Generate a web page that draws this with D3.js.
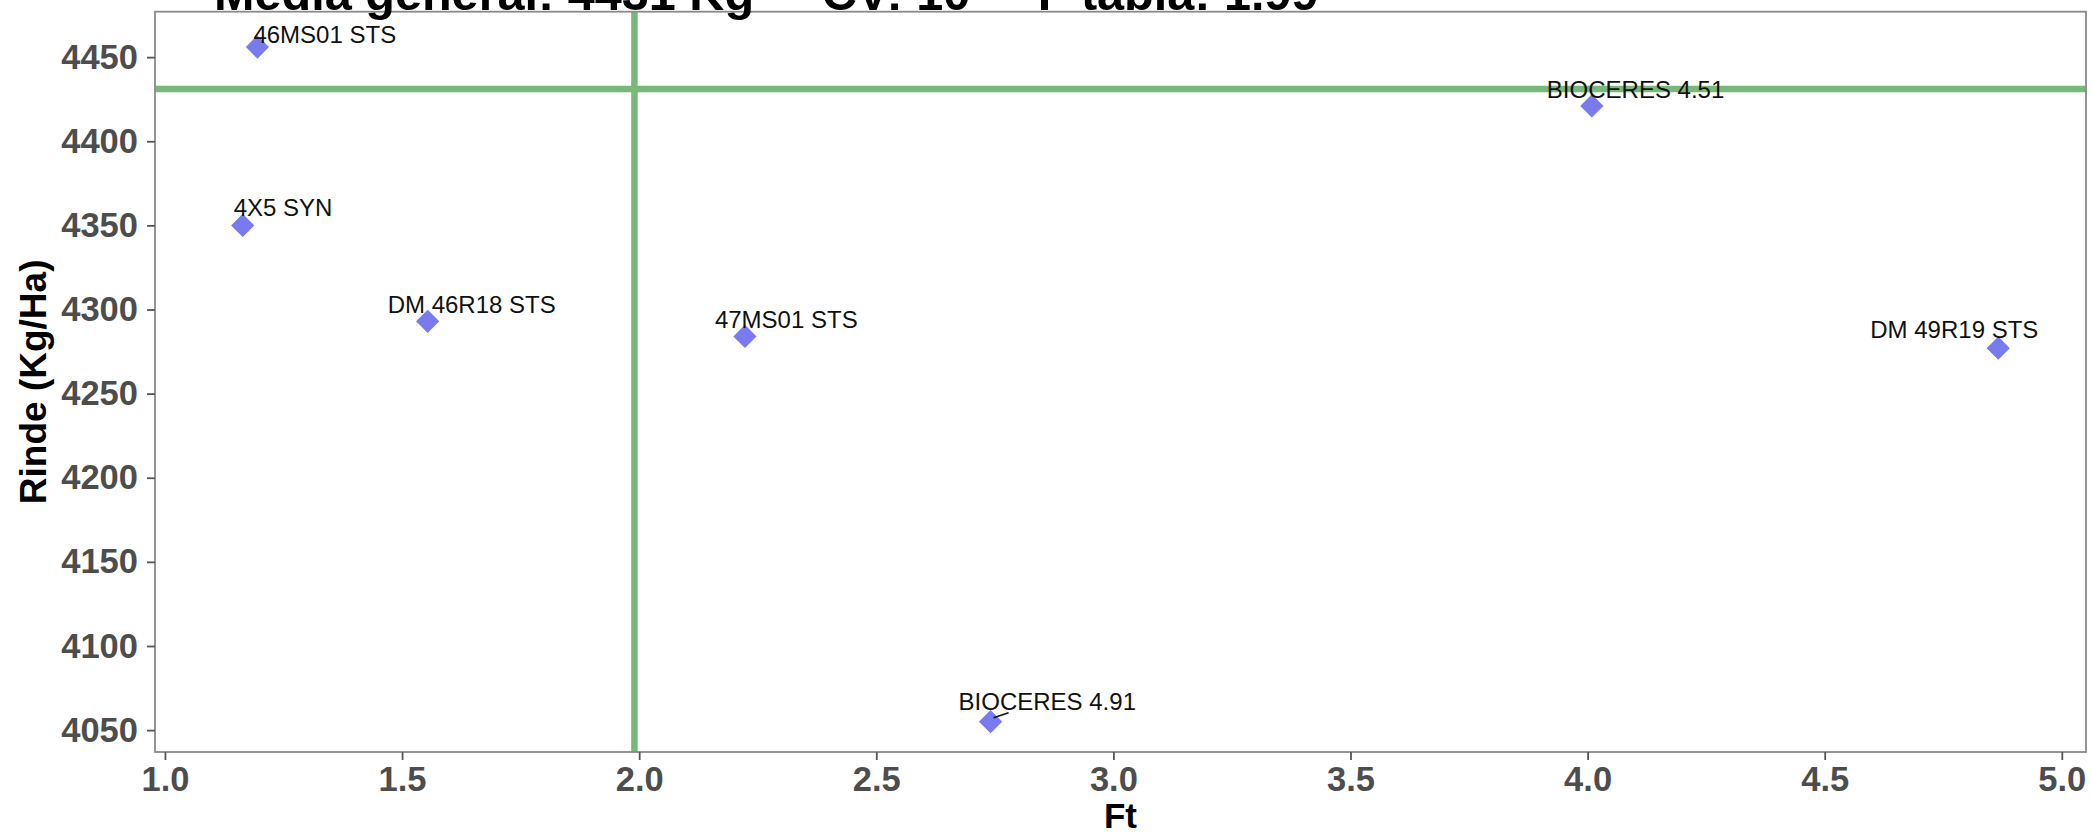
<!DOCTYPE html>
<html>
<head>
<meta charset="utf-8">
<script src="https://cdn.jsdelivr.net/npm/d3@7"></script>
<style>
  html, body { margin: 0; padding: 0; background: #ffffff; }
  svg { display: block; }
  text { font-family: "Liberation Sans", Arial, sans-serif; }
</style>
</head>
<body>
<div id="chart"></div>
<script>
// ---- Data ----
const genotypes = ["46MS01 STS", "4X5 SYN", "DM 46R18 STS", "47MS01 STS", "BIOCERES 4.91", "BIOCERES 4.51", "DM 49R19 STS"];
const ftValues = [1.195, 1.164, 1.554, 2.223, 2.741, 4.009, 4.866];
const rindeValues = [4456, 4350, 4293, 4284, 4055, 4421, 4277];
const mediaGeneral = 4431;
const fTabla = 1.99;
const titleText = "Media general: 4431 Kg     CV: 10     F tabla: 1.99";
const xTicks = [1.0, 1.5, 2.0, 2.5, 3.0, 3.5, 4.0, 4.5, 5.0];
const yTicks = [4050, 4100, 4150, 4200, 4250, 4300, 4350, 4400, 4450];
const xLimits = [0.979, 5.051];
const yLimits = [4037, 4477];
const xTitle = "Ft";
const yTitle = "Rinde (Kg/Ha)";

// label placement (pixel offsets of text start / baseline from the point, as placed by repel)
const labelOffsets = [
  {dx: -4, dy: -4},
  {dx: -9, dy: -9},
  {dx: -40, dy: -8},
  {dx: -30, dy: -8},
  {dx: -32, dy: -12, seg: [18, -9]},
  {dx: -45, dy: -8},
  {dx: -128, dy: -10}
];

// ---- Layout ----
const W = 2092, H = 837;
const panel = {left: 155, right: 2086, top: 11.7, bottom: 752};

const svg = d3.select("#chart").append("svg")
  .attr("width", W).attr("height", H)
  .style("background", "#ffffff");

const x = d3.scaleLinear().domain(xLimits).range([panel.left, panel.right]);
const y = d3.scaleLinear().domain(yLimits).range([panel.bottom, panel.top]);

const data = genotypes.map((g, i) => ({name: g, ft: ftValues[i], rinde: rindeValues[i], off: labelOffsets[i]}));

// clip
svg.append("clipPath").attr("id", "clip")
  .append("rect")
  .attr("x", panel.left).attr("y", panel.top)
  .attr("width", panel.right - panel.left).attr("height", panel.bottom - panel.top);

// reference lines
const refG = svg.append("g").attr("clip-path", "url(#clip)");
refG.append("line")
  .attr("x1", panel.left).attr("x2", panel.right)
  .attr("y1", y(mediaGeneral)).attr("y2", y(mediaGeneral))
  .attr("stroke", "#78b878").attr("stroke-width", 6.5);
refG.append("line")
  .attr("x1", x(fTabla)).attr("x2", x(fTabla))
  .attr("y1", panel.top).attr("y2", panel.bottom)
  .attr("stroke", "#78b878").attr("stroke-width", 6.5);

// points (filled diamonds)
const diamond = d3.symbol().type(d3.symbolSquare).size(270);
svg.append("g").selectAll("path.pt")
  .data(data).join("path")
  .attr("class", "pt")
  .attr("d", diamond)
  .attr("transform", d => `translate(${x(d.ft)},${y(d.rinde)}) rotate(45)`)
  .attr("fill", "#7a7aef");

// repel segments
svg.append("g").selectAll("line.seg")
  .data(data.filter(d => d.off.seg)).join("line")
  .attr("class", "seg")
  .attr("x1", d => x(d.ft) + 3).attr("y1", d => y(d.rinde) - 4)
  .attr("x2", d => x(d.ft) + d.off.seg[0]).attr("y2", d => y(d.rinde) + d.off.seg[1])
  .attr("stroke", "#111").attr("stroke-width", 1.6);

// labels
svg.append("g").selectAll("text.lbl")
  .data(data).join("text")
  .attr("class", "lbl")
  .attr("x", d => x(d.ft) + d.off.dx)
  .attr("y", d => y(d.rinde) + d.off.dy)
  .attr("font-size", 24)
  .attr("fill", "#111")
  .text(d => d.name);

// panel border
svg.append("rect")
  .attr("x", panel.left).attr("y", panel.top)
  .attr("width", panel.right - panel.left).attr("height", panel.bottom - panel.top)
  .attr("fill", "none").attr("stroke", "#8a8a8a").attr("stroke-width", 1.8);

// axes
const xAxis = d3.axisBottom(x).tickValues(xTicks).tickFormat(d3.format(".1f")).tickSize(8).tickPadding(7);
const yAxis = d3.axisLeft(y).tickValues(yTicks).tickFormat(d3.format("d")).tickSize(8).tickPadding(9);

const gx = svg.append("g").attr("transform", `translate(0,${panel.bottom})`).call(xAxis);
const gy = svg.append("g").attr("transform", `translate(${panel.left},0)`).call(yAxis);
[gx, gy].forEach(g => {
  g.select(".domain").remove();
  g.selectAll(".tick line").attr("stroke", "#555").attr("stroke-width", 1.8);
  g.selectAll(".tick text")
    .attr("fill", "#4d4d4d")
    .attr("font-size", 34.5)
    .attr("font-weight", "bold")
    .attr("font-family", "'Liberation Sans', Arial, sans-serif");
});

// axis titles
svg.append("text")
  .attr("x", (panel.left + panel.right) / 2).attr("y", 828)
  .attr("text-anchor", "middle")
  .attr("font-size", 35).attr("font-weight", "bold").attr("fill", "#000")
  .text(xTitle);
svg.append("text")
  .attr("transform", `translate(46,${(panel.top + panel.bottom) / 2}) rotate(-90)`)
  .attr("text-anchor", "middle")
  .attr("font-size", 37).attr("font-weight", "bold").attr("fill", "#000")
  .text(yTitle);

// title (cropped at the top edge, as in the original image)
svg.append("text")
  .attr("x", 214).attr("y", 10)
  .attr("xml:space", "preserve")
  .style("white-space", "pre")
  .attr("font-size", 48.6).attr("font-weight", "bold").attr("fill", "#000")
  .text(titleText);
</script>
</body>
</html>
